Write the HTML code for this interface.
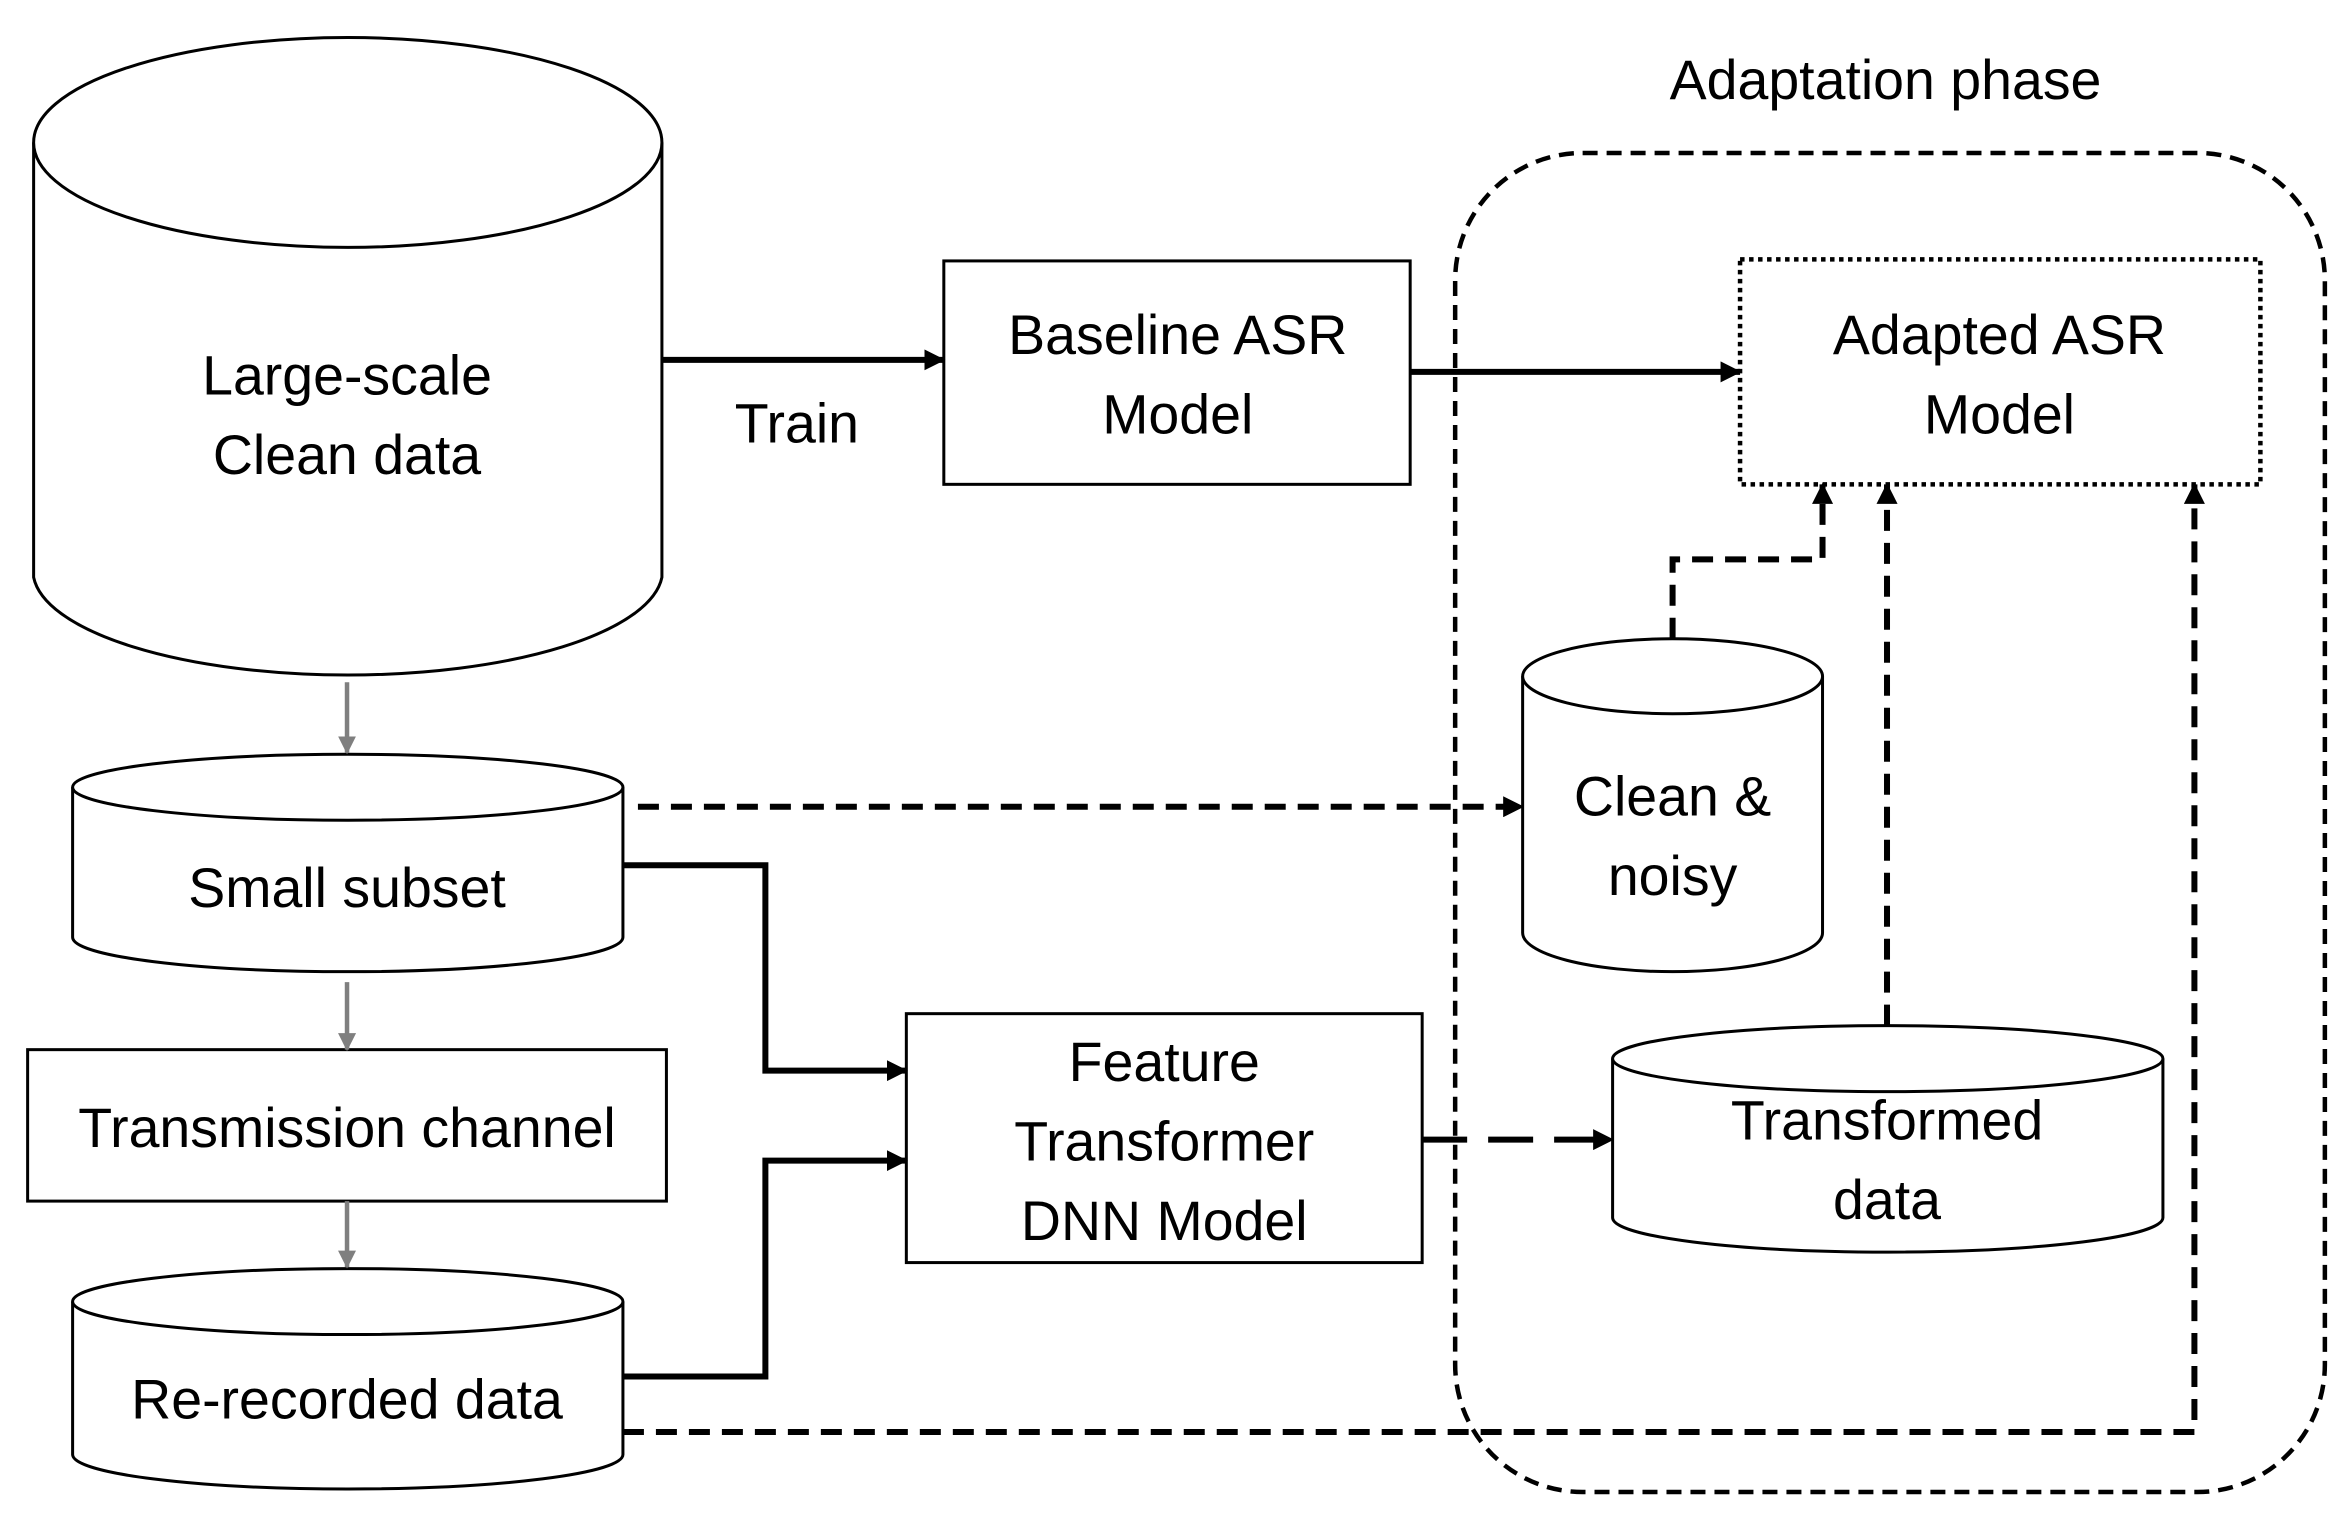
<!DOCTYPE html>
<html><head><meta charset="utf-8"><style>
html,body{margin:0;padding:0;background:#fff;}
svg{display:block;}
text{font-family:"Liberation Sans",sans-serif;font-size:37px;fill:#000;text-anchor:middle;}
</style></head><body>
<svg width="2345" height="1516" viewBox="0 0 1563 1011" xmlns="http://www.w3.org/2000/svg">
<defs>
<marker id="ab" markerWidth="14" markerHeight="14" refX="13" refY="7" orient="auto" markerUnits="userSpaceOnUse"><path d="M0,0 L14,7 L0,14 z" fill="#000"/></marker>
<marker id="ag" markerWidth="12" markerHeight="12" refX="11" refY="6" orient="auto" markerUnits="userSpaceOnUse"><path d="M0,0 L12,6 L0,12 z" fill="#7f7f7f"/></marker>
</defs>
<g fill="#fff" stroke="#000" stroke-width="2">
<path d="M22,95 L22,385 A210,70 0 0 0 441,385 L441,95"/>
<ellipse cx="231.5" cy="95" rx="209.5" ry="70"/>
<path d="M48,525 L48,625 A183.5,23 0 0 0 415,625 L415,525"/>
<ellipse cx="231.5" cy="525" rx="183.5" ry="22"/>
<rect x="18" y="700" width="426" height="101"/>
<path d="M48,868 L48,970 A183.5,23 0 0 0 415,970 L415,868"/>
<ellipse cx="231.5" cy="868" rx="183.5" ry="22"/>
<rect x="629" y="174" width="311" height="149"/>
<rect x="604" y="676" width="344" height="166"/>
<path d="M1015,451 L1015,622 A100,26 0 0 0 1215,622 L1215,451"/>
<ellipse cx="1115" cy="451" rx="100" ry="25"/>
<path d="M1075,706 L1075,812 A183.5,23 0 0 0 1442,812 L1442,706"/>
<ellipse cx="1258.5" cy="706" rx="183.5" ry="22"/>
</g>
<rect x="1160" y="173" width="347" height="150" fill="none" stroke="#000" stroke-width="3" stroke-dasharray="3,3"/>
<rect x="970" y="102" width="580" height="893" rx="85" ry="85" fill="none" stroke="#000" stroke-width="3" stroke-dasharray="10,6"/>
<g stroke="#7f7f7f" stroke-width="3">
<line x1="231" y1="455" x2="231" y2="502" marker-end="url(#ag)"/>
<line x1="231" y1="655" x2="231" y2="700" marker-end="url(#ag)"/>
<line x1="231" y1="801" x2="231" y2="845" marker-end="url(#ag)"/>
</g>
<g fill="none" stroke="#000" stroke-width="4">
<line x1="441" y1="240" x2="629" y2="240" marker-end="url(#ab)"/>
<line x1="940" y1="248" x2="1160" y2="248" marker-end="url(#ab)"/>
<polyline points="415,577 510,577 510,714 604,714" marker-end="url(#ab)"/>
<polyline points="415,918 510,918 510,774 604,774" marker-end="url(#ab)"/>
</g>
<g fill="none" stroke="#000" stroke-width="4" stroke-dasharray="14,8">
<polyline points="1115,426 1115,373 1215,373 1215,323" marker-end="url(#ab)"/>
<line x1="425" y1="538" x2="1015" y2="538" marker-end="url(#ab)"/>
<line x1="948" y1="760" x2="1075" y2="760" stroke-dasharray="30,14" marker-end="url(#ab)"/>
<line x1="1258" y1="684" x2="1258" y2="323" marker-end="url(#ab)"/>
<polyline points="415,955 1463,955 1463,323" marker-end="url(#ab)"/>
</g>
<text x="231" y="263">Large-scale</text>
<text x="231" y="316">Clean data</text>
<text x="231" y="605">Small subset</text>
<text x="231" y="765">Transmission channel</text>
<text x="231" y="946">Re-recorded data</text>
<text x="531" y="295">Train</text>
<text x="785" y="236">Baseline ASR</text>
<text x="785" y="289">Model</text>
<text x="1333" y="236">Adapted ASR</text>
<text x="1333" y="289">Model</text>
<text x="1257" y="66">Adaptation phase</text>
<text x="1115" y="544">Clean &amp;</text>
<text x="1115" y="597">noisy</text>
<text x="776" y="721">Feature</text>
<text x="776" y="774">Transformer</text>
<text x="776" y="827">DNN Model</text>
<text x="1258" y="760">Transformed</text>
<text x="1258" y="813">data</text>
</svg>
</body></html>
